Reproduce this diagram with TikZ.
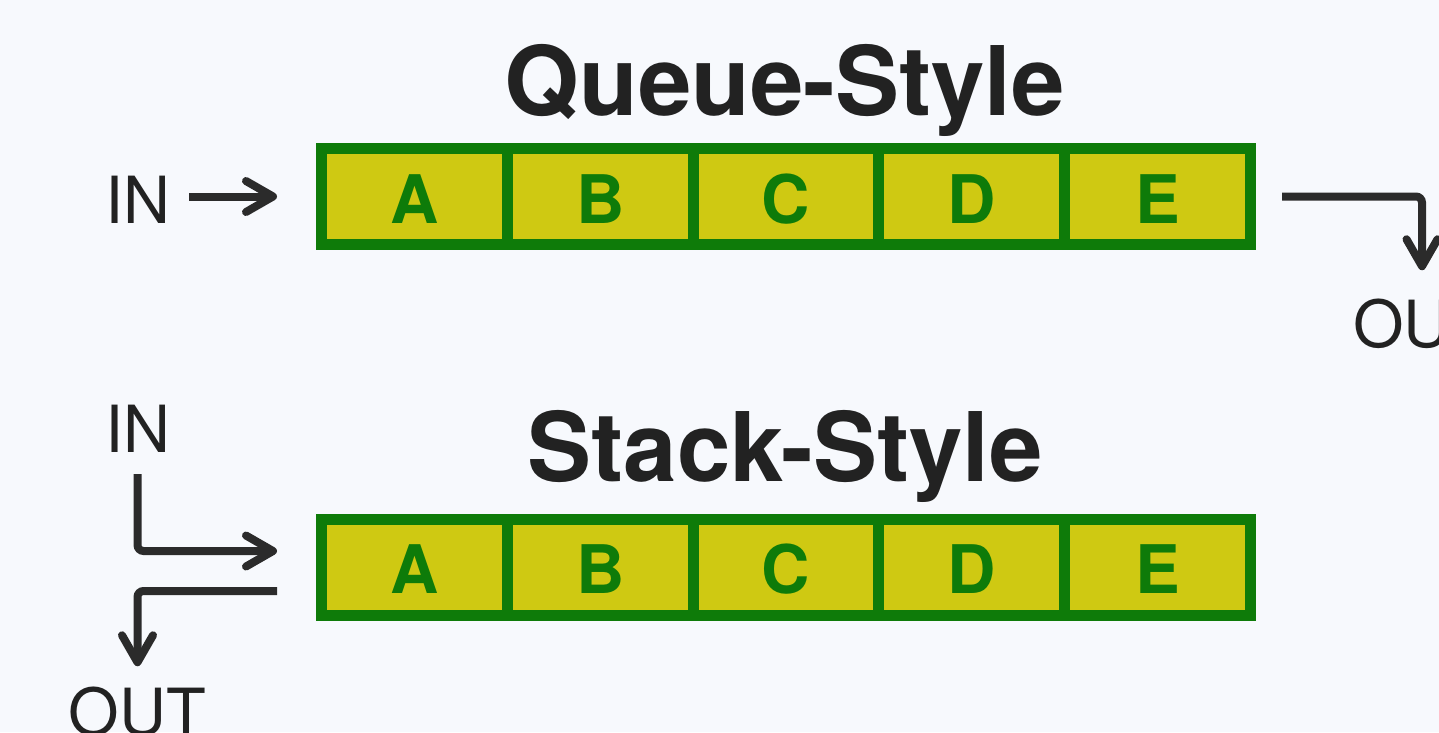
\documentclass[tikz,border=0pt]{standalone}
\usepackage{fontspec}
\setmainfont{TeX Gyre Heros}
\usetikzlibrary{arrows.meta}
\definecolor{bgc}{HTML}{F7F9FD}
\definecolor{cellfill}{HTML}{CFC912}
\definecolor{cellline}{HTML}{0E7B09}
\definecolor{ink}{HTML}{2B2B2B}
\definecolor{txt}{HTML}{222222}
\begin{document}
\begin{tikzpicture}[x=1pt,y=-1pt,
  cell/.style={draw=cellline,fill=cellfill,line width=11pt,minimum width=185.8pt,minimum height=96pt,
    inner sep=0pt,text=cellline,font=\fontsize{67}{67}\selectfont\bfseries,text height=53pt,text depth=0pt},
  lbl/.style={inner sep=0pt,text=txt,font=\fontsize{65}{65}\selectfont,anchor=base},
  ttl/.style={inner sep=0pt,text=txt,font=\fontsize{96}{96}\selectfont\bfseries,anchor=base},
  arr/.style={draw=ink,line width=8pt,rounded corners=6pt,
    -{Straight Barb[length=27pt,width=31pt,round]}}]
\fill[bgc] (0,0) rectangle (1439,732);
\useasboundingbox (0,0) rectangle (1439,732);
% titles
\node[ttl] (qt) at (784.5,115) {Queue-Style};
\node[ttl] (st) at (785,481) {Stack-Style};
% queue row
\node[cell] (q1) at (414.4,196.5) {A};
\node[cell] (q2) at (600.2,196.5) {B};
\node[cell] (q3) at (786.0,196.5) {C};
\node[cell] (q4) at (971.8,196.5) {D};
\node[cell] (q5) at (1157.6,196.5) {E};
% stack row
\node[cell] (s1) at (414.4,567) {A};
\node[cell] (s2) at (600.2,567) {B};
\node[cell] (s3) at (786.0,567) {C};
\node[cell] (s4) at (971.8,567) {D};
\node[cell] (s5) at (1157.6,567) {E};
% labels
\node[lbl] (qin) at (137.5,223) {IN};
\node[lbl] (qout) at (1422,347) {OUT};
\node[lbl] (sin) at (137.5,452) {IN};
\node[lbl] (sout) at (137.5,735) {OUT};
% connectors
\draw[arr] ([xshift=19pt]qin.east |- q1.west) -- ([xshift=-39pt]q1.west);
\draw[arr] ([xshift=26pt]q5.east) -| ([yshift=28pt]qout.north);
\draw[arr] ([yshift=-22pt]sin.south) |- ([xshift=-39pt,yshift=16pt]s1.west);
\draw[arr] ([xshift=-39pt,yshift=-24pt]s1.west) -| ([yshift=20pt]sout.north);
\end{tikzpicture}
\end{document}
